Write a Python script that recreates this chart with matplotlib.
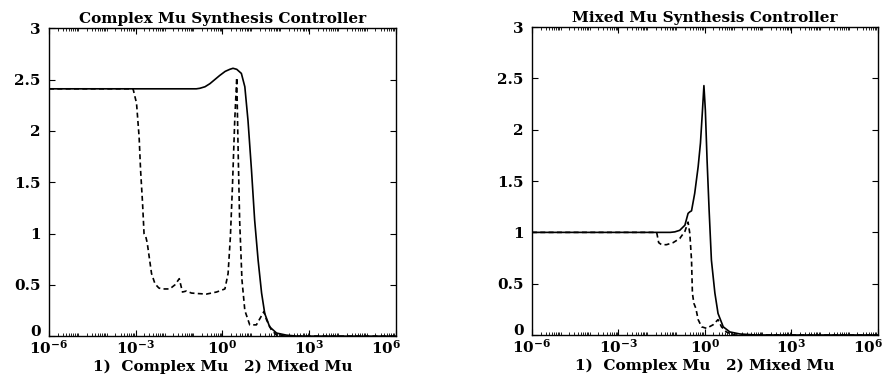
import numpy as np
import matplotlib
matplotlib.use('Agg')
import matplotlib.pyplot as plt
import matplotlib.transforms as mtransforms
from matplotlib.ticker import LogLocator, FixedLocator, NullFormatter

# Frequencies stored as log10 exponents, mu values.
# Left panel: complex mu synthesis controller
left_solid_exp = [-6, -0.9, -0.78, -0.6, -0.43, -0.09, 0.1, 0.26, 0.37, 0.5, 0.66, 0.78,
                  0.89, 1.01, 1.12, 1.24, 1.36, 1.47, 1.64, 1.88, 2.22, 2.6, 6]
left_solid_mu = [2.41, 2.41, 2.415, 2.43, 2.46, 2.54, 2.58, 2.60, 2.61, 2.60, 2.56, 2.43,
                 2.10, 1.62, 1.13, 0.74, 0.42, 0.22, 0.09, 0.03, 0.01, 0.0, 0.0]

left_dash_exp = [-6, -3.09, -2.97, -2.88, -2.83, -2.76, -2.71, -2.65, -2.60, -2.53, -2.45,
                 -2.33, -2.2, -2.10, -1.82, -1.64, -1.49, -1.38, -1.24, -1.07, -0.84, -0.55,
                 -0.20, 0.09, 0.20, 0.28, 0.35, 0.43, 0.50, 0.55, 0.60, 0.68, 0.78, 0.95,
                 1.18, 1.36, 1.44, 1.53, 1.70, 1.88, 2.2, 6]
left_dash_mu = [2.41, 2.41, 2.27, 1.94, 1.62, 1.29, 1.00, 0.97, 0.91, 0.77, 0.61,
                0.51, 0.47, 0.46, 0.46, 0.50, 0.56, 0.43, 0.44, 0.42, 0.415, 0.41,
                0.43, 0.46, 0.61, 0.97, 1.45, 2.10, 2.52, 1.78, 1.13, 0.55, 0.25, 0.11,
                0.11, 0.20, 0.24, 0.16, 0.06, 0.01, 0.0, 0.0]

# Right panel: mixed mu synthesis controller
right_solid_exp = [-6, -1.2, -1.04, -0.87, -0.69, -0.58, -0.52, -0.46, -0.35, -0.23, -0.15,
                   -0.08, -0.03, 0.02, 0.08, 0.15, 0.23, 0.35, 0.46, 0.64, 0.87, 1.22, 1.8, 6]
right_solid_mu = [1.0, 1.0, 1.005, 1.02, 1.07, 1.185, 1.2, 1.21, 1.38, 1.64, 1.87,
                  2.19, 2.43, 2.19, 1.70, 1.22, 0.73, 0.41, 0.21, 0.08, 0.03, 0.01, 0.0, 0.0]

right_dash_exp = [-6, -1.67, -1.6, -1.5, -1.33, -1.10, -0.87, -0.69, -0.58, -0.52, -0.46,
                  -0.43, -0.38, -0.31, -0.23, -0.11, 0.06, 0.29, 0.46, 0.58, 0.75, 1.0, 6]
right_dash_mu = [1.0, 1.0, 0.90, 0.88, 0.88, 0.90, 0.94, 1.01, 1.10, 0.99, 0.73,
                 0.41, 0.31, 0.26, 0.15, 0.08, 0.065, 0.10, 0.15, 0.08, 0.03, 0.0, 0.0]

titles = ['Complex Mu Synthesis Controller', 'Mixed Mu Synthesis Controller']
xlabel = '1)  Complex Mu   2) Mixed Mu'
xtick_exps = [-6, -3, 0, 3, 6]
ytick_vals = [0, 0.5, 1, 1.5, 2, 2.5, 3]
ytick_labels = ['0', '0.5', '1', '1.5', '2', '2.5', '3']

plt.rcParams['font.family'] = 'DejaVu Serif'
plt.rcParams['font.weight'] = 'bold'
plt.rcParams['mathtext.fontset'] = 'dejavuserif'

fig = plt.figure(figsize=(8.91, 3.82), dpi=100)
ax1 = fig.add_axes([0.055, 0.120, 0.389, 0.806])
ax2 = fig.add_axes([0.597, 0.123, 0.388, 0.806])

panels = [
    (ax1, left_solid_exp, left_solid_mu, left_dash_exp, left_dash_mu, titles[0]),
    (ax2, right_solid_exp, right_solid_mu, right_dash_exp, right_dash_mu, titles[1]),
]

# lift the "0" label a little so it sits above the 10^-6 label, as in the original
lift = mtransforms.ScaledTranslation(0, 4 / 72, fig.dpi_scale_trans)
# last x label is pulled in so it ends at the axis edge
pull = mtransforms.ScaledTranslation(4 / 72, 0, fig.dpi_scale_trans)

for ax, sx, sy, dx, dy, title in panels:
    ax.plot(10.0 ** np.array(sx), sy, color='black', lw=1.2)
    ax.plot(10.0 ** np.array(dx), dy, color='black', lw=1.2, linestyle=(0, (3, 2)))
    ax.set_xscale('log')
    ax.set_xlim(1e-6, 1e6)
    ax.set_ylim(0, 3)
    ax.xaxis.set_major_locator(FixedLocator([10.0 ** e for e in xtick_exps]))
    ax.set_xticklabels([r'$\mathbf{10^{%d}}$' % e for e in xtick_exps], fontsize=11)
    ax.xaxis.set_minor_locator(LogLocator(base=10, subs=np.arange(1, 10), numticks=100))
    ax.xaxis.set_minor_formatter(NullFormatter())
    ax.set_yticks(ytick_vals)
    ax.set_yticklabels(ytick_labels, fontsize=11, fontweight='bold')
    ax.tick_params(which='both', direction='in', top=True, right=True)
    ax.tick_params(axis='x', pad=2)
    ax.tick_params(axis='y', pad=6)
    ax.tick_params(which='major', length=4, width=0.8)
    ax.tick_params(which='minor', length=2, width=0.6)
    lab0 = ax.get_yticklabels()[0]
    lab0.set_transform(lab0.get_transform() + lift)
    last = ax.get_xticklabels()[-1]
    last.set_horizontalalignment('right')
    last.set_transform(last.get_transform() + pull)
    for sp in ax.spines.values():
        sp.set_linewidth(1.0)
    ax.set_title(title, fontsize=11, fontweight='bold', pad=4)
    ax.set_xlabel(xlabel, fontsize=11, fontweight='bold', labelpad=2)

fig.savefig('out.png', dpi=100)
